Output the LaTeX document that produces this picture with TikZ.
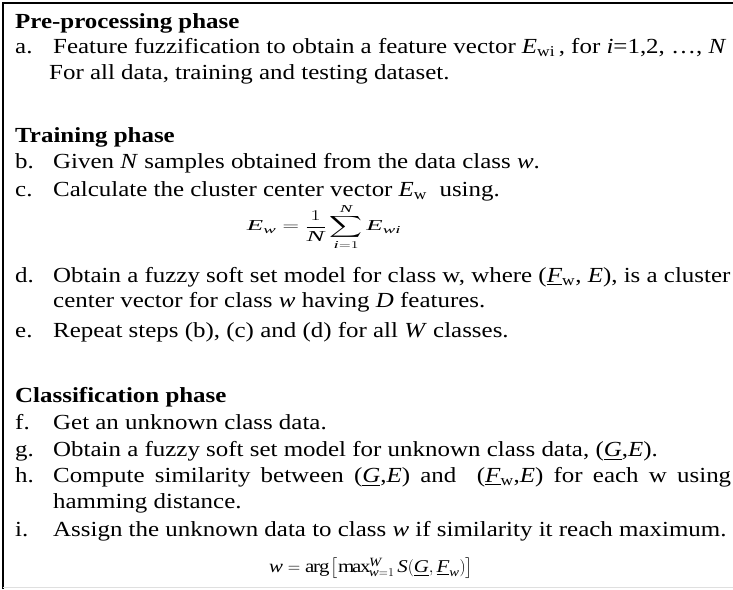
\documentclass[tikz,border=0pt]{standalone}
\usepackage{amsmath}
\usepackage{graphicx}
\usepackage{fontspec}
\setmainfont{Liberation Serif}[FakeStretch=1.16]
\usetikzlibrary{positioning}
\tikzset{
  txt/.style={anchor=base west, inner sep=0pt, font=\fontsize{21.5}{26}\selectfont},
  head/.style={txt, font=\fontsize{21.5}{26}\selectfont\bfseries},
  formula/.style={anchor=center, inner sep=0pt}
}
\newcommand{\ul}[1]{\underline{\textit{#1}}}
\newcommand{\sbw}[1]{\textsubscript{#1}}
\newcommand{\iv}[1]{\textit{#1}}

\begin{document}
\begin{tikzpicture}[x=1pt,y=-1pt]
\useasboundingbox (0,0) rectangle (733,589);
% frame
\draw[line width=1.5pt] (3,589) -- (3,3) -- (733,3);
\draw[gray!25] (3,587) -- (733,587);
% pre-processing
\node[head] (pre) at (15,28) {Pre-processing phase};
\node[txt] (la) at (15,53) {a.};
\node[txt] (ta) at (53,53) {Feature fuzzification to obtain a feature vector \textit{E}\sbw{wi}\,, for \textit{i}=1,2, …, \textit{N}};
\node[txt] (ta2) at (49,79) {For all data, training and testing dataset.};
% training
\node[head] (train) at (15,142) {Training phase};
\node[txt] (lb) at (15,168) {b.};
\node[txt] (tb) at (53,168) {Given \textit{N} samples obtained from the data class \textit{w}.};
\node[txt] (lc) at (15,196) {c.};
\node[txt] (tc) at (53,196) {Calculate the cluster center vector \textit{E}\sbw{w}\ \ using.};
\node[formula, font=\fontsize{21}{24}\selectfont] (ew) at (324,227) {\scalebox{1.1}[0.72]{$\displaystyle \iv{E}_{\iv{w}} = \frac{1}{\iv{N}}\sum_{\iv{i}=1}^{\iv{N}} \iv{E}_{\iv{wi}}$}};
\node[txt] (ld) at (15,282) {d.};
\node[txt] (td) at (53,282) {Obtain a fuzzy soft set model for class w, where (\ul{F}\sbw{w}, \textit{E}), is a cluster};
\node[txt] (td2) at (53,307) {center vector for class \textit{w} having \textit{D} features.};
\node[txt] (le) at (15,337) {e.};
\node[txt] (te) at (53,337) {Repeat steps (b), (c) and (d) for all \textit{W} classes.};
% classification
\node[head] (cls) at (15,402) {Classification phase};
\node[txt] (lf) at (15,429) {f.};
\node[txt] (tf) at (53,429) {Get an unknown class data.};
\node[txt] (lg) at (15,456) {g.};
\node[txt] (tg) at (53,456) {Obtain a fuzzy soft set model for unknown class data, (\ul{G},\textit{E}).};
\node[txt] (lh) at (15,482) {h.};
\node[txt] (th) at (53,482) {\makebox[678pt][s]{Compute similarity between (\ul{G},\textit{E}) and \ (\ul{F}\sbw{w},\textit{E}) for each w using}};
\node[txt] (th2) at (53,508) {hamming distance.};
\node[txt] (li) at (15,536) {i.};
\node[txt] (ti) at (53,536) {Assign the unknown data to class \textit{w} if similarity it reach maximum.};
\node[formula, font=\fontsize{18}{20}\selectfont] (wmax) at (371,568) {$\iv{w} = \arg\left[\max\nolimits_{\iv{w}=1}^{\iv{W}} \iv{S}(\underline{\iv{G}},\underline{\iv{F}}_{\iv{w}})\right]$};
\end{tikzpicture}
\end{document}
